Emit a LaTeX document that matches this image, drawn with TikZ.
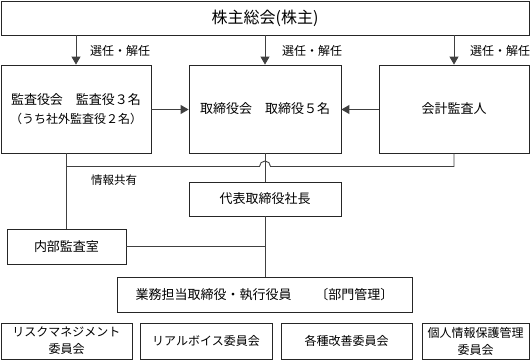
\documentclass[tikz,border=0pt]{standalone}
\usepackage{fontspec}
\setmainfont{Noto Sans CJK JP}
\usetikzlibrary{arrows.meta, calc}
\definecolor{ink}{HTML}{262626}
\definecolor{wire}{HTML}{404040}
\newcommand{\ptsz}[2]{\fontsize{#1}{#2}\selectfont}
\tikzset{box/.style={draw=ink, line width=0.8pt, inner sep=0pt, align=center, font=\ptsz{13}{19}},
  wire/.style={draw=wire, line width=0.9pt, line cap=butt},
  pick/.style={wire, -{Triangle[width=9pt,length=8pt]}},
  tag/.style={inner sep=0pt, anchor=west, font=\ptsz{12}{12}}}

\begin{document}
\begin{tikzpicture}[x=1pt, y=-1pt]
  \useasboundingbox (0,0) rectangle (530,360);
  % governance row
  \node[box, minimum width=528pt, minimum height=34pt, font=\ptsz{16}{16}] (kabu) at (265,18) {株主総会(株主)};
  \node[box, minimum width=150pt, minimum height=88pt] (kansa) at (76,109) {監査役会　監査役３名\\{\ptsz{12}{19}（うち社外監査役２名）}};
  \node[box, minimum width=152pt, minimum height=88pt] (tori) at (265,109) {取締役会　取締役５名};
  \node[box, minimum width=150pt, minimum height=88pt] (kaikei) at (454,109) {会計監査人};
  \foreach \b/\x in {kansa/90, tori/282, kaikei/470}{
     \draw[pick] (\b.north |- kabu.south) -- (\b.north);
     \node[tag] (sen-\b) at (\x,51) {選任・解任};}
  \draw[pick] (kansa.east |- 0,109.5) -- (tori.west |- 0,109.5);
  \draw[pick] (kaikei.west |- 0,109.5) -- (tori.east |- 0,109.5);
  % execution
  \node[box, minimum width=152pt, minimum height=34pt] (daihyo) at (265,199) {代表取締役社長};
  \node[box, minimum width=119pt, minimum height=35pt] (naibu) at (66.5,246.5) {内部監査室};
  \node[box, minimum width=295pt, minimum height=35pt] (gyomu) at (264.5,294.5) {業務担当取締役・執行役員\hspace{24pt}〔部門管理〕};
  \node[tag, font=\ptsz{11.5}{11.5}] (joho) at (91,180) {情報共有};
  \coordinate (bus) at (0,166.5);
  \draw[wire] (naibu.north |- kansa.south) -- (naibu.north);
  \draw[wire] (naibu.north |- bus) -- ($(tori.south |- bus)+(-5.5,0)$) arc[start angle=180, end angle=0, radius=5.5pt]
     -- (kaikei.south |- bus) -- (kaikei.south);
  \draw[wire] (tori.south) -- (daihyo.north);
  \draw[wire] (daihyo.south) -- (daihyo.south |- gyomu.north);
  \draw[wire] (naibu.east) -- (naibu.east -| daihyo.south);
  % committees
  \foreach \x/\w/\t [count=\i] in {66.5/131/{リスクマネジメント\\委員会}, 206/132/{リアルボイス委員会},
     346.5/131/{各種改善委員会}, 475.5/107/{個人情報保護管理\\委員会}}{
     \node[box, minimum width=\w pt, minimum height=36pt, font=\ptsz{12}{17}] (comm\i) at (\x,341) {\t};}
\end{tikzpicture}
\end{document}
